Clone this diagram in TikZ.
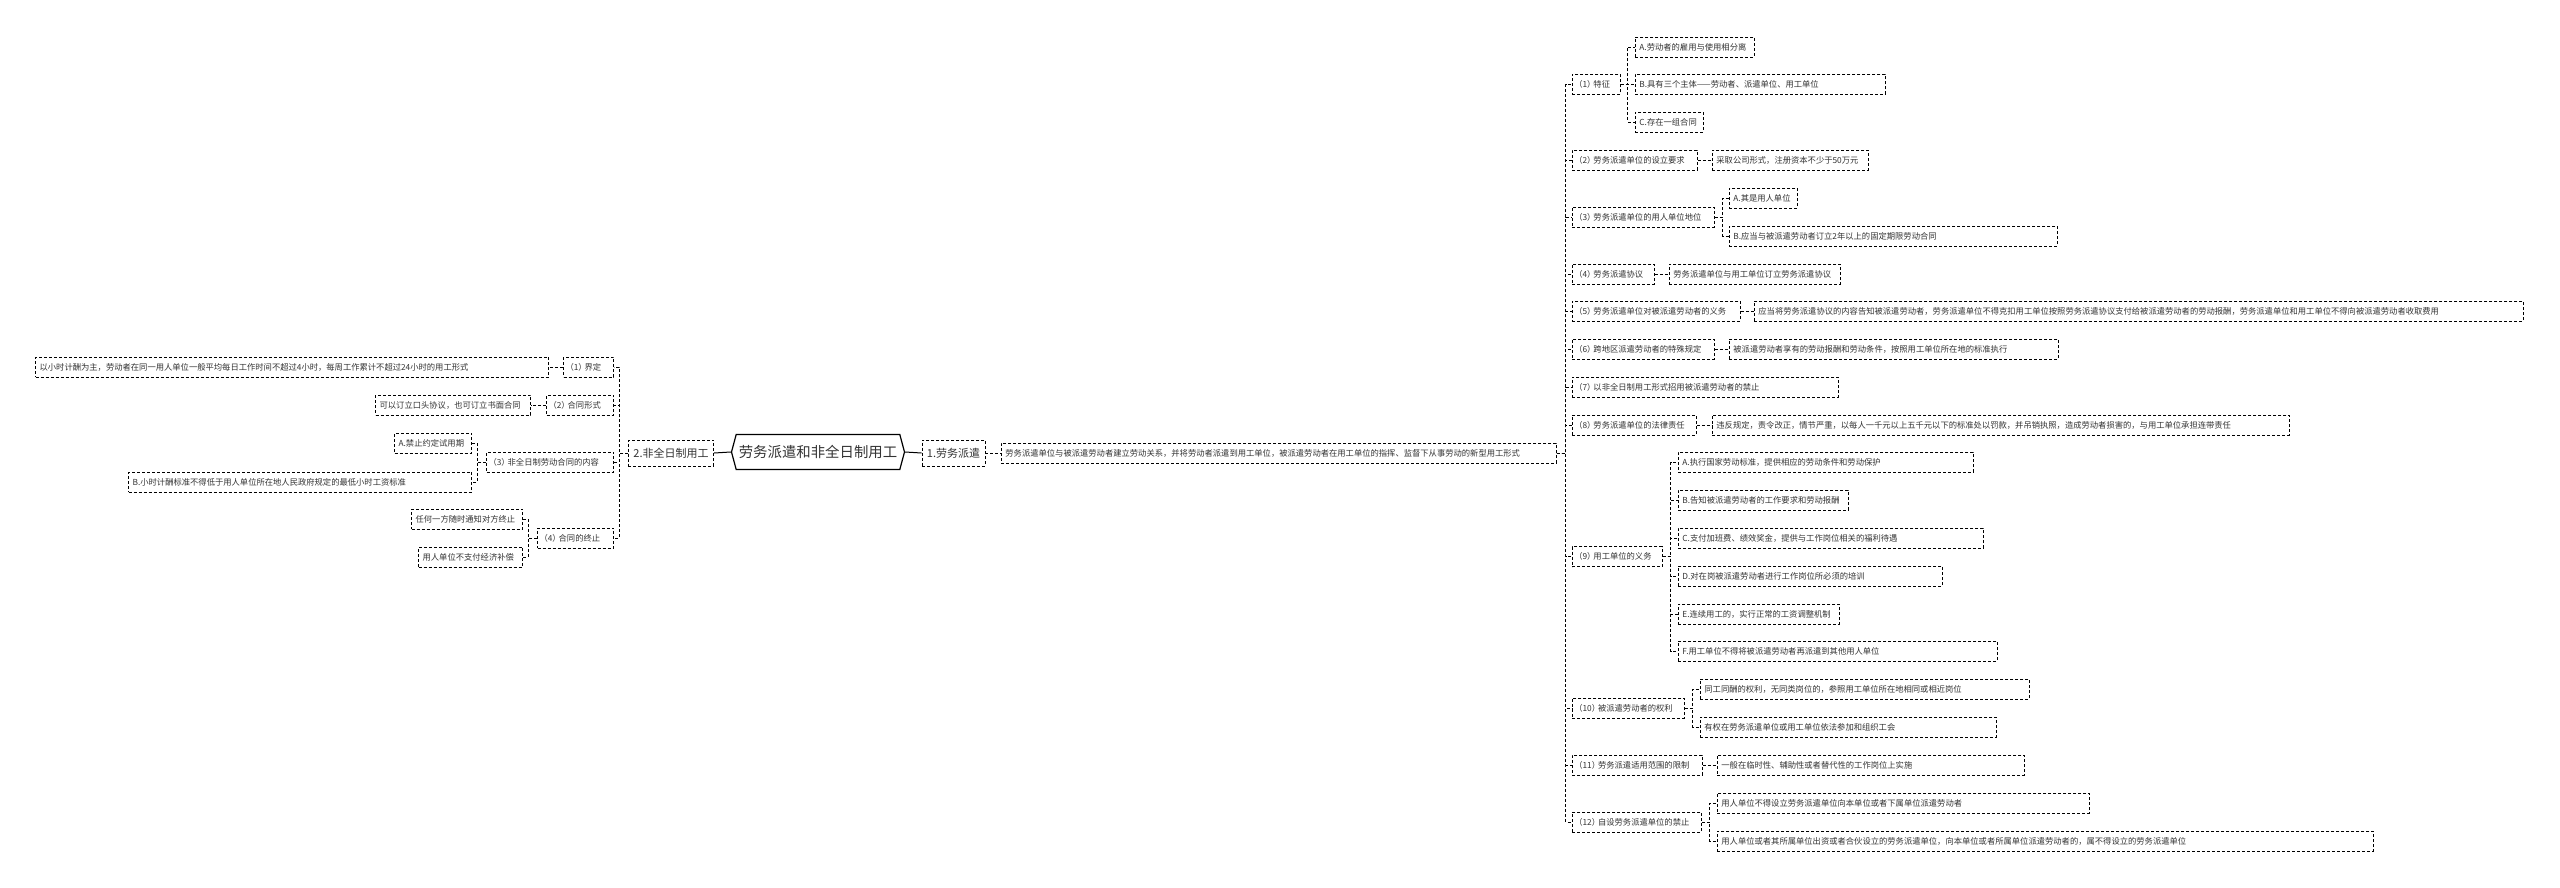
\documentclass[tikz,border=0pt]{standalone}
\usepackage{fontspec}
\setmainfont{Noto Sans CJK SC}
\usetikzlibrary{shapes.symbols}
\definecolor{ink}{HTML}{333333}
\newcommand{\nr}[1]{\makebox[0.75em][r]{（}#1\makebox[0.75em][l]{）}}
\begin{document}
\begin{tikzpicture}[x=1pt,y=-1pt,font=\fontsize{8.3}{10}\selectfont,
  dsh/.style={line width=0.8pt,dash pattern=on 3pt off 2pt},
  leaf/.style={draw,dsh,text=ink,inner xsep=4pt,inner ysep=0pt,minimum height=20pt,text width=#1,align=left,anchor=west},
  topic/.style={draw,dsh,text=ink,font=\fontsize{11}{13}\selectfont,inner xsep=5pt,inner ysep=0pt,minimum height=26pt},
  central/.style={draw,line width=1.2pt,shape=signal,signal to=east and west,signal pointer angle=150,text=ink,font=\fontsize{14.4}{16}\selectfont,minimum width=173pt,minimum height=35pt,inner sep=0pt},
  link/.style={dsh}]
\useasboundingbox[fill=white] (0,0) rectangle (2560,888);
% centre
\node[central] (root) at (818,452) {劳务派遣和非全日制用工};
\node[topic] (n2) at (671,453) {2.非全日制用工};
\node[topic] (n1) at (953.5,453) {1.劳务派遣};
\draw[line width=1pt] (root.west) -- (n2.east);
\draw[line width=1pt] (root.east) -- (n1.west);
% 2. left part
\node[leaf=42pt,anchor=east] (l1) at (614,367) {\nr{1}界定};
\node[leaf=505pt,anchor=east] (l1a) at (549,367) {以小时计酬为主，劳动者在同一用人单位一般平均每日工作时间不超过4小时，每周工作累计不超过24小时的用工形式};
\node[leaf=59pt,anchor=east] (l2) at (614,405) {\nr{2}合同形式};
\node[leaf=147pt,anchor=east] (l2a) at (531,405) {可以订立口头协议，也可订立书面合同};
\node[leaf=119pt,anchor=east] (l3) at (614,462) {\nr{3}非全日制劳动合同的内容};
\node[leaf=69pt,anchor=east] (l3a) at (472,443) {A.禁止约定试用期};
\node[leaf=335pt,anchor=east] (l3b) at (472,482) {B.小时计酬标准不得低于用人单位所在地人民政府规定的最低小时工资标准};
\node[leaf=68pt,anchor=east] (l4) at (614,538) {\nr{4}合同的终止};
\node[leaf=103pt,anchor=east] (l4a) at (523,519) {任何一方随时通知对方终止};
\node[leaf=96pt,anchor=east] (l4b) at (523,557) {用人单位不支付经济补偿};
\foreach \k in {1,2,3,4} \draw[link] (n2.west) -- ++(-9,0) |- (l\k.east);
\draw[link] (l1.west) -- (l1a.east);
\draw[link] (l2.west) -- (l2a.east);
\foreach \c in {a,b} \draw[link] (l3.west) -- ++(-9,0) |- (l3\c.east);
\foreach \c in {a,b} \draw[link] (l4.west) -- ++(-9,0) |- (l4\c.east);
% 1. right part
\node[leaf=547pt] (def) at (1001,453) {劳务派遣单位与被派遣劳动者建立劳动关系，并将劳动者派遣到用工单位，被派遣劳动者在用工单位的指挥、监督下从事劳动的新型用工形式};
\draw[link] (n1.east) -- (def.west);
\node[leaf=40pt] (r1) at (1572,84.5) {\nr{1}特征};
\node[leaf=111pt] (r1a) at (1635,47) {A.劳动者的雇用与使用相分离};
\node[leaf=242pt] (r1b) at (1635,84.5) {B.具有三个主体——劳动者、派遣单位、用工单位};
\node[leaf=60pt] (r1c) at (1635,122) {C.存在一组合同};
\node[leaf=117pt] (r2) at (1572,160) {\nr{2}劳务派遣单位的设立要求};
\node[leaf=148pt] (r2a) at (1712,160) {采取公司形式，注册资本不少于50万元};
\node[leaf=134pt] (r3) at (1572,217) {\nr{3}劳务派遣单位的用人单位地位};
\node[leaf=60pt] (r3a) at (1729,198) {A.其是用人单位};
\node[leaf=320pt] (r3b) at (1729,236) {B.应当与被派遣劳动者订立2年以上的固定期限劳动合同};
\node[leaf=74pt] (r4) at (1572,274) {\nr{4}劳务派遣协议};
\node[leaf=163pt] (r4a) at (1669,274) {劳务派遣单位与用工单位订立劳务派遣协议};
\node[leaf=160pt] (r5) at (1572,311) {\nr{5}劳务派遣单位对被派遣劳动者的义务};
\node[leaf=761pt] (r5a) at (1754,311) {应当将劳务派遣协议的内容告知被派遣劳动者，劳务派遣单位不得克扣用工单位按照劳务派遣协议支付给被派遣劳动者的劳动报酬，劳务派遣单位和用工单位不得向被派遣劳动者收取费用};
\node[leaf=134pt] (r6) at (1572,349) {\nr{6}跨地区派遣劳动者的特殊规定};
\node[leaf=321pt] (r6a) at (1729,349) {被派遣劳动者享有的劳动报酬和劳动条件，按照用工单位所在地的标准执行};
\node[leaf=258pt] (r7) at (1572,387) {\nr{7}以非全日制用工形式招用被派遣劳动者的禁止};
\node[leaf=116pt] (r8) at (1572,425) {\nr{8}劳务派遣单位的法律责任};
\node[leaf=569pt] (r8a) at (1712,425) {违反规定，责令改正，情节严重，以每人一千元以上五千元以下的标准处以罚款，并吊销执照，造成劳动者损害的，与用工单位承担连带责任};
\node[leaf=82pt] (r9) at (1572,556.5) {\nr{9}用工单位的义务};
\node[leaf=287pt] (r9a) at (1678,462) {A.执行国家劳动标准，提供相应的劳动条件和劳动保护};
\node[leaf=162pt] (r9b) at (1678,500) {B.告知被派遣劳动者的工作要求和劳动报酬};
\node[leaf=297pt] (r9c) at (1678,538) {C.支付加班费、绩效奖金，提供与工作岗位相关的福利待遇};
\node[leaf=256pt] (r9d) at (1678,576) {D.对在岗被派遣劳动者进行工作岗位所必须的培训};
\node[leaf=153pt] (r9e) at (1678,614) {E.连续用工的，实行正常的工资调整机制};
\node[leaf=311pt] (r9f) at (1678,651) {F.用工单位不得将被派遣劳动者再派遣到其他用人单位};
\node[leaf=104pt] (r10) at (1572,708) {\nr{10}被派遣劳动者的权利};
\node[leaf=321pt] (r10a) at (1700,689) {同工同酬的权利，无同类岗位的，参照用工单位所在地相同或相近岗位};
\node[leaf=288pt] (r10b) at (1700,727) {有权在劳务派遣单位或用工单位依法参加和组织工会};
\node[leaf=122pt] (r11) at (1572,765) {\nr{11}劳务派遣适用范围的限制};
\node[leaf=299pt] (r11a) at (1717,765) {一般在临时性、辅助性或者替代性的工作岗位上实施};
\node[leaf=121pt] (r12) at (1572,822) {\nr{12}自设劳务派遣单位的禁止};
\node[leaf=364pt] (r12a) at (1717,803) {用人单位不得设立劳务派遣单位向本单位或者下属单位派遣劳动者};
\node[leaf=648pt] (r12b) at (1717,841) {用人单位或者其所属单位出资或者合伙设立的劳务派遣单位，向本单位或者所属单位派遣劳动者的，属不得设立的劳务派遣单位};
\foreach \k in {1,...,12} \draw[link] (def.east) -- ++(9,0) |- (r\k.west);
\foreach \c in {a,b,c} \draw[link] (r1.east) -- ++(7,0) |- (r1\c.west);
\draw[link] (r2.east) -- (r2a.west);
\foreach \c in {a,b} \draw[link] (r3.east) -- ++(8,0) |- (r3\c.west);
\draw[link] (r4.east) -- (r4a.west);
\draw[link] (r5.east) -- (r5a.west);
\draw[link] (r6.east) -- (r6a.west);
\draw[link] (r8.east) -- (r8a.west);
\foreach \c in {a,...,f} \draw[link] (r9.east) -- ++(8,0) |- (r9\c.west);
\foreach \c in {a,b} \draw[link] (r10.east) -- ++(8,0) |- (r10\c.west);
\draw[link] (r11.east) -- (r11a.west);
\foreach \c in {a,b} \draw[link] (r12.east) -- ++(8,0) |- (r12\c.west);
\end{tikzpicture}
\end{document}
